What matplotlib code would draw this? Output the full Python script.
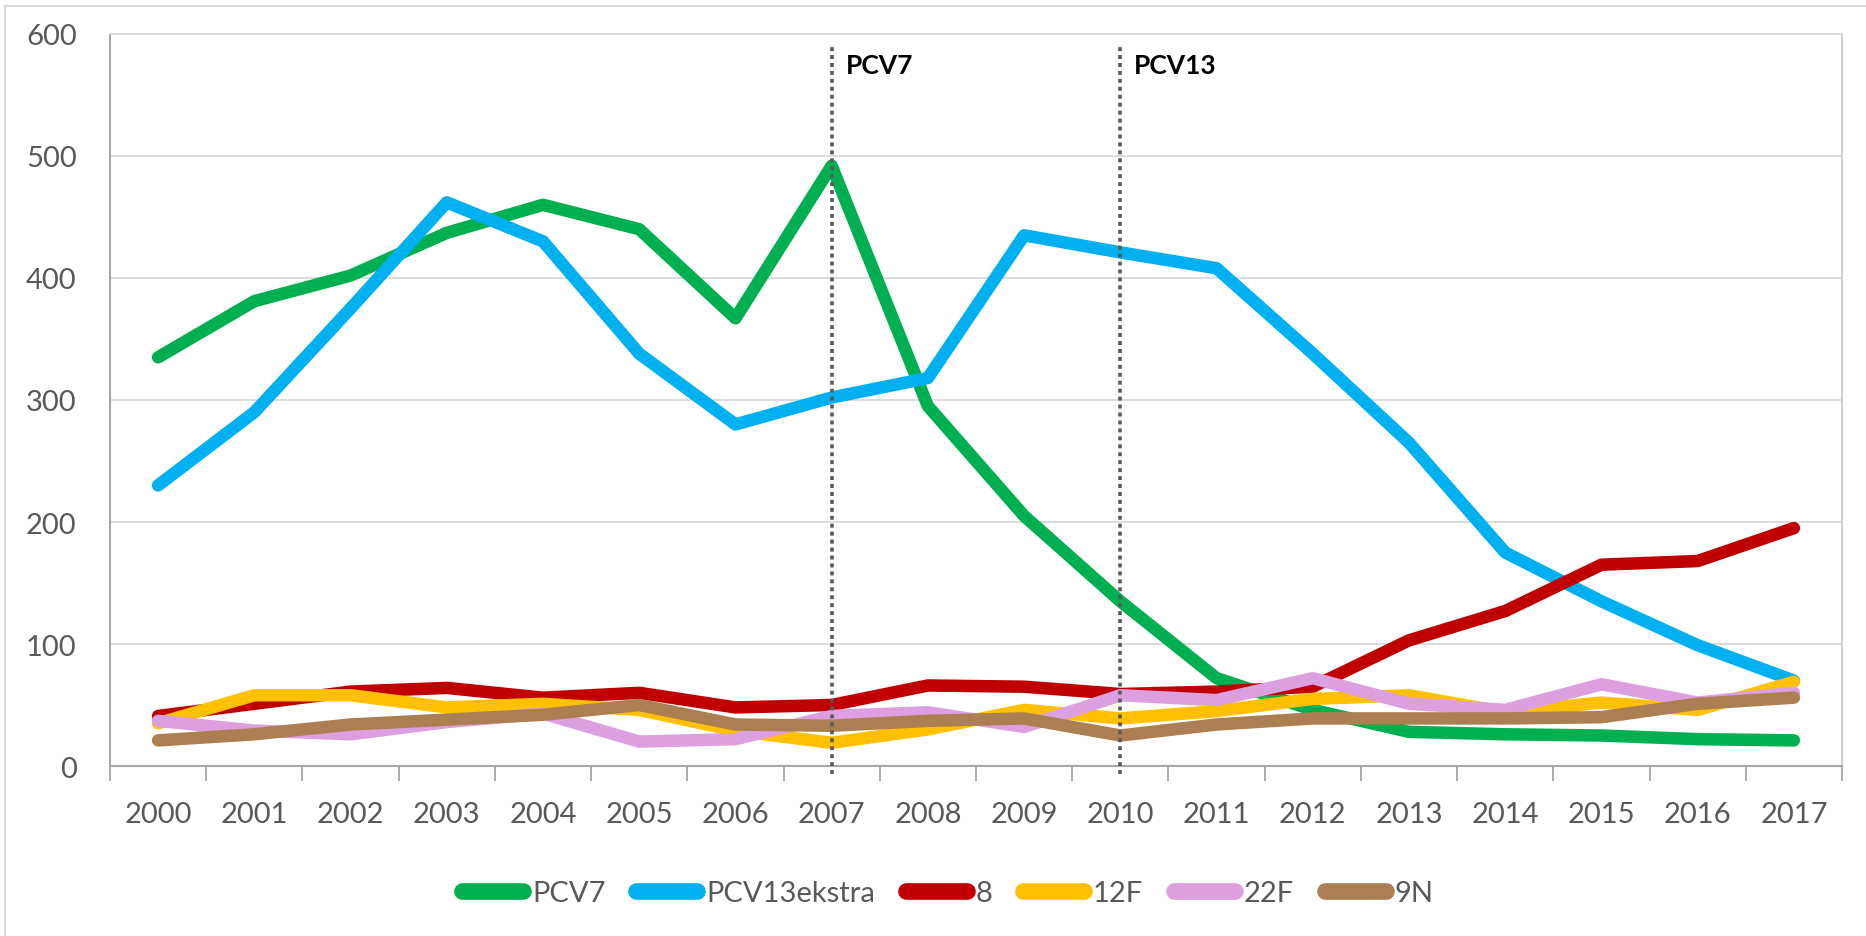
import numpy as np
import matplotlib.pyplot as plt
from matplotlib.lines import Line2D

plt.rcParams['font.family'] = ['Lato', 'DejaVu Sans']

years = [str(y) for y in range(2000, 2018)]
pcv7 = [335, 381, 402, 437, 460, 440, 367, 492, 295, 205, 135, 72, 46, 28, 26, 25, 22, 21]
pcv13ekstra = [230, 290, 375, 462, 430, 338, 280, 302, 318, 435, 421, 408, 338, 265, 175, 135, 99, 70]
s8 = [41, 51, 61, 64, 56, 60, 48, 50, 66, 65, 59, 61, 65, 103, 127, 165, 168, 195]
s12f = [35, 58, 58, 48, 51, 46, 29, 19, 30, 46, 39, 45, 55, 58, 44, 52, 46, 69]
s22f = [37, 29, 26, 36, 43, 20, 22, 41, 44, 32, 58, 54, 72, 51, 46, 67, 52, 60]
s9n = [21, 26, 34, 38, 42, 50, 34, 33, 37, 39, 25, 34, 39, 39, 39, 40, 51, 56]

series = [('PCV7', pcv7, '#00b050'),
          ('PCV13ekstra', pcv13ekstra, '#00b0f0'),
          ('8', s8, '#c00000'),
          ('12F', s12f, '#ffc000'),
          ('22F', s22f, '#dc9fe0'),
          ('9N', s9n, '#ab7f52')]

fig = plt.figure(figsize=(18.66, 9.37), dpi=100)
ax = fig.add_axes([110/1866, 1-767/937, (1842-110)/1866, (767-35)/937])

x = np.arange(len(years))
for name, vals, col in series:
    ax.plot(x, vals, color=col, lw=9, solid_capstyle='round', solid_joinstyle='round', label=name)

# vaccine introductions
for yr, lab in [('2007', 'PCV7'), ('2010', 'PCV13')]:
    xi = years.index(yr)
    ax.axvline(xi, ymin=-0.011, ymax=0.985, color='#595959', lw=2.6, ls=(0, (1.1, 1.1)),
               dash_capstyle='butt', clip_on=False, zorder=5)
    ax.annotate(lab, (xi, 600), xytext=(10, -22), textcoords='offset points',
                fontsize=19, fontweight='bold', color='black', va='center', ha='left')

ax.set_xlim(-0.5, len(years) - 0.5)
ax.set_ylim(0, 600)
ax.set_yticks(range(0, 601, 100))
ax.set_xticks(x)
ax.set_xticklabels(years)
ax.set_xticks(np.arange(-0.5, len(years)), minor=True)
ax.tick_params(axis='x', which='major', length=0, pad=25, labelsize=21, labelcolor='#595959')
ax.tick_params(axis='x', which='minor', length=11, width=1.3, color='#a6a6a6', direction='out')
ax.tick_params(axis='y', length=0, pad=24, labelsize=21, labelcolor='#595959')
ax.grid(axis='y', color='#d9d9d9', lw=1.3)
ax.set_axisbelow(True)
for side in ['left', 'bottom']:
    ax.spines[side].set_color('#a6a6a6')
    ax.spines[side].set_linewidth(1.5)
ax.spines['top'].set_color('#d9d9d9')
ax.spines['right'].set_color('#d0d0d0')
ax.spines['top'].set_linewidth(1.3)
ax.spines['right'].set_linewidth(1.5)

leg = fig.legend(loc='center', bbox_to_anchor=(0.508, 1 - 894/937), ncol=6, frameon=False,
                 fontsize=21, handlelength=2.1, handletextpad=0.3, columnspacing=1.05)
for t in leg.get_texts():
    t.set_color('#595959')
for h in leg.legend_handles:
    h.set_linewidth(12)
    h.set_solid_capstyle('round')

# outer chart border (left and top visible)
fig.add_artist(Line2D([5/1866, 5/1866], [0, 1 - 7/937], color='#d9d9d9', lw=1.5))
fig.add_artist(Line2D([5/1866, 1], [1 - 7/937, 1 - 7/937], color='#d9d9d9', lw=1.5))

fig.savefig('out.png', dpi=100, facecolor='white')
